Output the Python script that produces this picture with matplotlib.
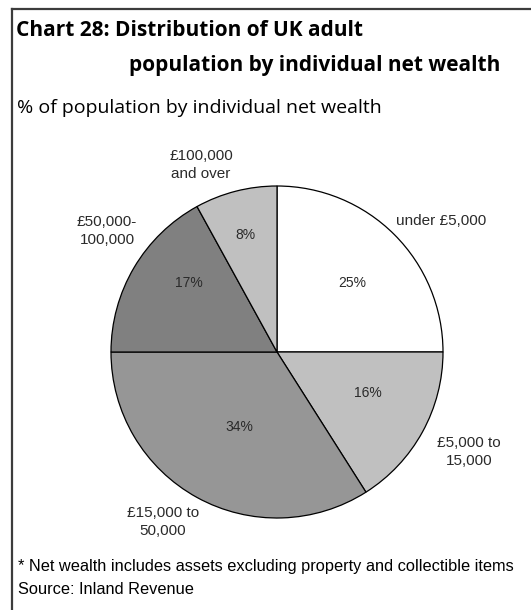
import matplotlib.pyplot as plt

# wealth bands, clockwise from 12 o'clock
bands = ['under £5,000', '£5,000 to\n15,000', '£15,000 to\n50,000',
         '£50,000-\n100,000', '£100,000\nand over']
shares = [25, 16, 34, 17, 8]
colors = ['#ffffff', '#c0c0c0', '#969696', '#808080', '#c0c0c0']

W, H = 531, 610
fig = plt.figure(figsize=(W / 100, H / 100), dpi=100)

# frame: top and left rules only
fig.add_artist(plt.Line2D([12 / W, 1], [1 - 9 / H, 1 - 9 / H], color='#3c3c3c', lw=1.6))
fig.add_artist(plt.Line2D([12 / W, 12 / W], [1 - 9 / H, 0], color='#3c3c3c', lw=1.6))

# pie axes: centre (277, 352) px, radius 166 px
cx, cy, r = 277, 352, 166
ax = fig.add_axes([(cx - r) / W, (H - cy - r) / H, 2 * r / W, 2 * r / H])
ax.pie(shares, colors=colors, startangle=90, counterclock=False,
       wedgeprops=dict(edgecolor='black', linewidth=0.9))
ax.set_xlim(-1, 1)
ax.set_ylim(-1, 1)
ax.set_aspect('equal')
ax.axis('off')


def px(x, y):
    return (x - cx) / r, (cy - y) / r


# band labels (pixel positions of label centres)
band_pos = [(441, 221), (469, 452), (163, 522), (107, 231), (201, 165)]
for name, (x, y) in zip(bands, band_pos):
    ax.text(*px(x, y), name, ha='center', va='center', linespacing=1.3,
            clip_on=False, family='Liberation Sans', fontsize=11, color='#2a2a2a')

# percentage labels inside the slices
pct_pos = [(352, 283), (368, 393), (239, 427), (189, 283), (245, 235)]
for v, (x, y) in zip(shares, pct_pos):
    ax.text(*px(x, y), f'{v}%', ha='center', va='center',
            family='Liberation Sans', fontsize=10, color='#2a2a2a')

# titles
fig.text(16 / W, 1 - 31 / H, 'Chart 28: Distribution of UK adult',
         family='Open Sans', fontweight='bold', fontsize=15, va='center')
fig.text(129 / W, 1 - 66 / H, 'population by individual net wealth',
         family='Open Sans', fontweight='bold', fontsize=15, va='center')
fig.text(17 / W, 1 - 108 / H, '% of population by individual net wealth',
         family='Open Sans', fontsize=14, va='center')

# notes
fig.text(18 / W, 1 - 567 / H,
         '* Net wealth includes assets excluding property and collectible items',
         family='Liberation Sans', fontsize=11.8, va='center')
fig.text(18 / W, 1 - 589 / H, 'Source: Inland Revenue',
         family='Liberation Sans', fontsize=11.8, va='center')

fig.savefig('out.png', dpi=100, facecolor='white')
